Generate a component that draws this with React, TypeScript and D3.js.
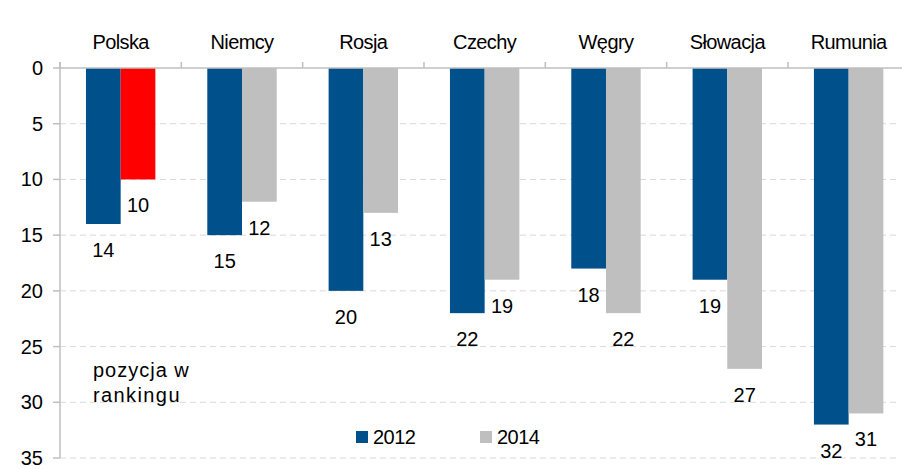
import React from "react";
import * as d3 from "d3";

const categories = ["Polska", "Niemcy", "Rosja", "Czechy", "Węgry", "Słowacja", "Rumunia"];
const series2012 = [14, 15, 20, 22, 18, 19, 32];
const series2014 = [10, 12, 13, 19, 22, 27, 31];
const yTicks = [0, 5, 10, 15, 20, 25, 30, 35];
const seriesNames = ["2012", "2014"];

const W = 902;
const H = 469;
const FONT = "'Liberation Sans', Arial, sans-serif";
const BLUE = "#00508C";
const GRAY = "#BFBFBF";
const RED = "#FF0000";

export default function App() {
  const left = 60;
  const right = 909.3;
  const top = 68;
  const bottom = 458;

  const x = d3.scaleBand<string>().domain(categories).range([left, right]).paddingInner(0).paddingOuter(0);
  const y = d3.scaleLinear().domain([0, 35]).range([top, bottom]);
  const bw = x.bandwidth();
  const barW = bw * 0.286;

  const bars: any[] = [];
  categories.forEach((c, i) => {
    const cx = (x(c) as number) + bw / 2;
    bars.push({ key: c + "a", x: cx - barW, v: series2012[i], fill: BLUE });
    bars.push({ key: c + "b", x: cx, v: series2014[i], fill: i === 0 ? RED : GRAY });
  });

  return (
    <svg width={W} height={H} style={{ position: "absolute", left: 0, top: 0, background: "#fff" }} fontFamily={FONT}>
      {yTicks.filter((t) => t > 0).map((t) => (
        <line key={"g" + t} x1={left} x2={898} y1={y(t)} y2={y(t)} stroke="#D9D9D9" strokeDasharray="6,4" strokeWidth={1} />
      ))}
      {bars.map((b) => (
        <rect key={b.key} x={b.x} y={y(0)} width={barW} height={y(b.v) - y(0)} fill={b.fill} />
      ))}
      <line x1={left} x2={W} y1={top} y2={top} stroke="#BFBFBF" strokeWidth={1.5} />
      {categories.map((c, i) => (
        <line key={"tt" + i} x1={x(c) as number} x2={x(c) as number} y1={top - 6} y2={top} stroke="#BFBFBF" strokeWidth={1.5} />
      ))}
      <line x1={left} x2={left} y1={top - 6} y2={bottom} stroke="#BFBFBF" strokeWidth={1.5} />
      {yTicks.map((t) => (
        <g key={"yt" + t}>
          <line x1={left - 7} x2={left} y1={y(t)} y2={y(t)} stroke="#BFBFBF" strokeWidth={1.5} />
          <text x={43} y={y(t)} dy="0.35em" textAnchor="end" fontSize={20} fill="#000">{t}</text>
        </g>
      ))}
      {categories.map((c) => (
        <text key={"cl" + c} x={(x(c) as number) + bw / 2} y={49} textAnchor="middle" fontSize={20} fill="#000" letterSpacing={-0.6}>{c}</text>
      ))}
      {bars.map((b) => (
        <text key={"vl" + b.key} x={b.x + barW / 2} y={y(b.v) + 26} dy="0.35em" textAnchor="middle" fontSize={20} fill="#000">{b.v}</text>
      ))}
      <text x={93} y={377} fontSize={20} fill="#000" letterSpacing={1}>pozycja w</text>
      <text x={93} y={402} fontSize={20} fill="#000" letterSpacing={1.4}>rankingu</text>
      <rect x={356} y={431} width={12} height={12} fill={BLUE} />
      <text x={373} y={437} dy="0.35em" fontSize={20} fill="#000" letterSpacing={-0.5}>{seriesNames[0]}</text>
      <rect x={480} y={431} width={12} height={12} fill={GRAY} />
      <text x={497} y={437} dy="0.35em" fontSize={20} fill="#000" letterSpacing={-0.5}>{seriesNames[1]}</text>
    </svg>
  );
}
